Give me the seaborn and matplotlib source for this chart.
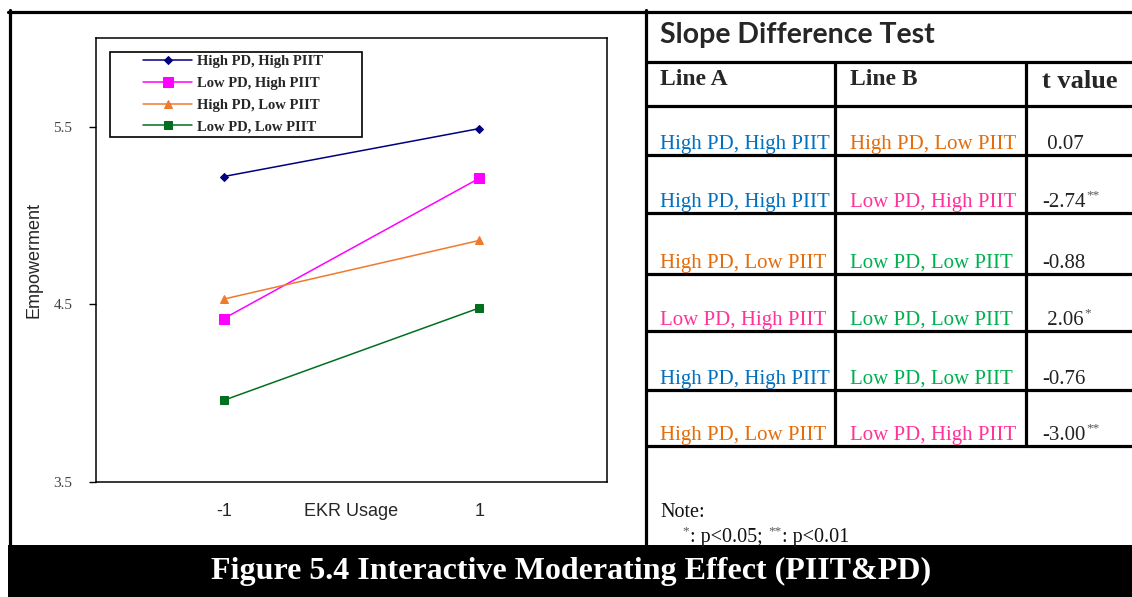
import numpy as np
import pandas as pd
import seaborn as sns
import matplotlib.pyplot as plt
from matplotlib.lines import Line2D
from matplotlib.patches import Rectangle
from matplotlib.legend_handler import HandlerLine2D

# --- chart data ---
groups = ["High PD, High PIIT", "Low PD, High PIIT", "High PD, Low PIIT", "Low PD, Low PIIT"]
ekr_levels = [-1, 1]
low_ekr = [5.22, 4.42, 4.53, 3.96]
high_ekr = [5.49, 5.21, 4.86, 4.48]
line_colors = ["#000080", "#FF00FF", "#F07A2C", "#007020"]
line_markers = ["D", "s", "^", "s"]
marker_sizes = [4.5, 6.5, 6, 6]

y_ticks = [3.5, 4.5, 5.5]
x_ticks = [-1, 0, 1]
x_tick_labels = ["-1", "EKR Usage", "1"]

# --- slope difference test table ---
line_a = ["High PD, High PIIT", "High PD, High PIIT", "High PD, Low PIIT",
          "Low PD, High PIIT", "High PD, High PIIT", "High PD, Low PIIT"]
line_b = ["High PD, Low PIIT", "Low PD, High PIIT", "Low PD, Low PIIT",
          "Low PD, Low PIIT", "Low PD, Low PIIT", "Low PD, High PIIT"]
t_values = [0.07, -2.74, -0.88, 2.06, -0.76, -3.00]
t_stars = ["", "**", "", "*", "", "**"]
text_colors = {"High PD, High PIIT": "#0070C0", "Low PD, High PIIT": "#FF3399",
               "High PD, Low PIIT": "#E46C0A", "Low PD, Low PIIT": "#00B050"}

df = pd.DataFrame({
    "group": np.repeat(groups, len(ekr_levels)),
    "EKR": ekr_levels * len(groups),
    "Empowerment": [v for pair in zip(low_ekr, high_ekr) for v in pair],
})

sns.set_style("white")
plt.rcParams["font.family"] = ["Liberation Sans", "DejaVu Sans"]

W, H = 1132, 597
fig = plt.figure(figsize=(W / 100, H / 100), dpi=100)
fig.patch.set_facecolor("white")


def fx(x):
    return x / W


def fy(y):
    return 1 - y / H


# --- 1. the interaction chart ---
ax = fig.add_axes([fx(96), fy(482), (607 - 96) / W, (482 - 38) / H])
sns.lineplot(data=df, x="EKR", y="Empowerment", hue="group", hue_order=groups,
             palette=line_colors, style="group", style_order=groups,
             markers=line_markers, dashes=False, errorbar=None, linewidth=1.1,
             legend=False, ax=ax)
for line, ms, c in zip(ax.lines, marker_sizes, line_colors):
    line.set_markersize(ms)
    line.set_markeredgecolor(c)
    line.set_markerfacecolor(c)

ax.set_xlim(-2, 2)
ax.set_ylim(3.5, 6.0)
ax.set_xticks(x_ticks, x_tick_labels)
ax.set_xticks([0], minor=True)
ax.set_yticks(y_ticks, [f"{v:.1f}" for v in y_ticks])
ax.set_xlabel("")
ax.set_ylabel("Empowerment", fontsize=13, labelpad=8)
for s in ax.spines.values():
    s.set_color("black")
    s.set_linewidth(1.1)
ax.tick_params(axis="x", which="major", bottom=True, length=0, pad=15, labelsize=13)
ax.tick_params(axis="x", which="minor", bottom=True, length=4, width=1, color="black")
ax.tick_params(axis="y", left=True, direction="out", length=5, width=1,
               color="black", pad=12, labelsize=11, labelcolor="#444444")
for t in ax.get_yticklabels():
    t.set_fontfamily("Liberation Serif")


class RightLineHandler(HandlerLine2D):
    # Excel-style legend: short line sitting right next to the label
    def get_xdata(self, legend, xdescent, ydescent, width, height, fontsize):
        x0 = -xdescent + 0.38 * width
        x1 = -xdescent + width
        return np.array([x0, x1]), np.array([(x0 + x1) / 2])


leg = ax.legend(handles=ax.lines[:4], labels=groups, loc="upper left",
                bbox_to_anchor=(0.0274, 0.5, 0.493, 0.4685), mode="expand",
                borderaxespad=0, frameon=True, fancybox=False, framealpha=1,
                edgecolor="black",
                prop={"family": "Liberation Serif", "weight": "bold", "size": 10.5},
                handlelength=5.4, handletextpad=0.34, borderpad=0.22,
                labelspacing=0.58, handler_map={Line2D: RightLineHandler()})
leg.get_frame().set_linewidth(1.2)


# --- 2. borders and table grid ---
def hline(y, x0, x1, lw=2.3):
    fig.add_artist(Line2D([fx(x0), fx(x1)], [fy(y), fy(y)], color="black", lw=lw))


def vline(x, y0, y1, lw=2.3):
    fig.add_artist(Line2D([fx(x), fx(x)], [fy(y0), fy(y1)], color="black", lw=lw))


hline(11.5, 8, W)
vline(9.5, 10, 546)
vline(646, 10, 546)
row_lines = [61.5, 106, 155, 213, 274, 331, 390, 446]
for y in row_lines:
    hline(y, 646, W)
for x in [835, 1026]:
    vline(x, 61.5, 446)

fig.add_artist(Rectangle((fx(8), 0), 1 - fx(8), fy(545), transform=fig.transFigure,
                         facecolor="black", edgecolor="none"))
fig.text(fx(571), fy(571), "Figure 5.4 Interactive Moderating Effect (PIIT&PD)",
         ha="center", va="center", color="white", fontfamily="Liberation Serif",
         fontweight="bold", fontsize=23)

# --- 3. table text ---
fig.text(fx(660), fy(43), "Slope Difference Test", fontfamily="Lato",
         fontweight="bold", fontsize=20.5, va="baseline")
serif = dict(fontfamily="Liberation Serif", va="baseline")
fig.text(fx(660), fy(85), "Line A", fontweight="bold", fontsize=17, **serif)
fig.text(fx(850), fy(85), "Line B", fontweight="bold", fontsize=17, **serif)
fig.text(fx(1042), fy(88), "t value", fontweight="bold", fontsize=19, **serif)

fig.canvas.draw()
renderer = fig.canvas.get_renderer()

for i, (a, b, t, st) in enumerate(zip(line_a, line_b, t_values, t_stars)):
    base = row_lines[i + 2] - 6
    fig.text(fx(660), fy(base), a, color=text_colors[a], fontsize=15, **serif)
    fig.text(fx(850), fy(base), b, color=text_colors[b], fontsize=15, **serif)
    label = f"{t:.2f}" if t < 0 else f" {t:.2f}"
    tt = fig.text(fx(1042), fy(base), label, color="#222222", fontsize=15, **serif)
    if st:
        bb = tt.get_window_extent(renderer)
        fig.text(bb.x1 / W + 1 / W, fy(base - 9), st, color="#555555",
                 fontsize=9.5, **serif)

fig.text(fx(660), fy(517), "Note:", color="#111111", fontsize=14.5, **serif)
# note line with superscript stars, placed piece by piece
x = 682
for piece, sup, gap in [("*", True, 0), (": p<0.05;", False, 5), ("**", True, 0), (": p<0.01", False, 0)]:
    txt = fig.text(fx(x), fy(542 - (8 if sup else 0)), piece, color="#555555" if sup else "#111111",
                   fontsize=9.5 if sup else 14.5, **serif)
    x += txt.get_window_extent(renderer).width + gap + 1

fig.savefig("out.png", dpi=100, facecolor="white")
